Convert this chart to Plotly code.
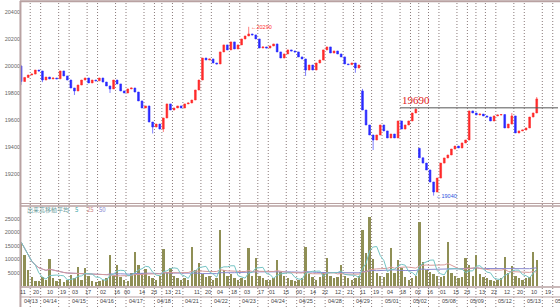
import plotly.graph_objects as go
import pandas as pd

# ---------------- data ----------------
DATES = ["04/13", "04/14", "04/15", "04/16", "04/17", "04/18", "04/21", "04/22",
         "04/23", "04/24", "04/25", "04/28", "04/29", "05/01", "05/02", "05/08",
         "05/09", "05/12", "05/13", "05/14"]

HOUR_POS = [0.362, 0.819, 1.329, 1.786, 2.207, 2.664, 3.192, 3.684, 4.035, 4.562,
            4.984, 5.476, 5.828, 6.496, 6.883, 7.304, 7.796, 8.253, 8.745, 9.132,
            9.624, 10.081, 10.573, 10.995, 11.452, 11.873, 12.330, 12.787, 13.279,
            13.736, 14.263, 14.685, 15.142, 15.599, 15.986, 16.513, 16.934, 17.391,
            17.848, 18.340, 18.833]
HOUR_TXT = ["11", "20", "10", "19", "03", "17", "02", "16", "00", "14",
            "23", "13", "21", "11", "20", "04", "18", "03", "17", "01",
            "15", "00", "14", "22", "12", "21", "11", "19", "04",
            "18", "02", "16", "01", "15", "23", "13", "22", "12",
            "20", "10", "19"]

SESSION_MARK = 0.633          # second dotted line inside each day (day units)
EXTRA_MARKS = [5.26, 10.26, 12.25, 14.29, 16.30]

SLOTS_PER_DAY = 8
FIRST_SLOT = 2
FIRST_OPEN = 20000

closes = [19885, 19915, 19933, 19940, 19970, 19963, 19896, 19918, 19904, 19911,
          19905, 19963, 19926, 19896, 19837, 19815, 19859, 19896, 19911, 19874,
          19896, 19890, 19911, 19881, 19852, 19830, 19896, 19867, 19815, 19800,
          19830, 19837, 19807, 19741, 19689, 19704, 19585, 19548, 19570, 19533,
          19615, 19719, 19674, 19689, 19704, 19689, 19719, 19726, 19748, 19822,
          19896, 20059, 20044, 20052, 20022, 20015, 20104, 20156, 20119, 20178,
          20126, 20156, 20200, 20222, 20237, 20230, 20200, 20133, 20141, 20133,
          20148, 20163, 20104, 20059, 20089, 20119, 20111, 20104, 20067, 20052,
          19970, 20007, 19970, 20022, 20044, 20119, 20141, 20096, 20111, 20089,
          20067, 20015, 20010, 20022, 19985, 20007, 19674, 19563, 19489, 19452,
          19489, 19563, 19519, 19467, 19496, 19467, 19593, 19533, 19563, 19593,
          19652, 19680, 19320, 19281, 19230, 19141, 19067, 19170, 19281, 19319,
          19341, 19385, 19407, 19393, 19430, 19452, 19667, 19652, 19637, 19644,
          19630, 19622, 19593, 19630, 19637, 19640, 19541, 19570, 19630, 19504,
          19519, 19526, 19541, 19622, 19652, 19756]

gap_opens = {98: 19815, 114: 19390}
wick_high = {2: 20005, 66: 20290, 98: 19830, 113: 19690, 140: 19652, 147: 19770}
wick_low = {2: 19860, 8: 19880, 17: 19785, 27: 19800, 39: 19500, 42: 19511,
            82: 19926, 96: 19950, 101: 19378, 118: 19040}

volume = [16500, 11500, 6000, 3500, 2200, 2000, 3500, 2500, 10000, 3000,
          2200, 2800, 1800, 2500, 4300, 3000, 7300, 2500, 7000, 4000,
          2200, 1800, 2000, 2500, 3000, 11600, 4000, 7900, 3500, 2500,
          2000, 5000, 12900, 8000, 5000, 6500, 4000, 3000, 2500, 4000,
          14000, 5500, 7000, 4000, 3000, 2500, 3000, 2500, 14700, 6000,
          8700, 4500, 3500, 4000, 2500, 3000, 20900, 6000, 4000, 4500,
          3000, 2500, 3000, 2500, 14100, 4000, 10400, 4000, 3000, 2500,
          2500, 3000, 9800, 5500, 4000, 3000, 2500, 2000, 2500, 3000,
          14700, 4500, 3500, 2500, 3500, 5000, 10400, 4000, 3000, 3500,
          8000, 4000, 3000, 2500, 3000, 4000, 20900, 12400, 25800, 10000,
          5000, 4000, 3500, 5000, 14200, 5000, 9800, 7000, 3500, 2500,
          3000, 4000, 24000, 9200, 6000, 5500, 4500, 4000, 3500, 4000,
          16600, 5000, 4000, 3000, 3500, 10400, 8000, 4000, 11700, 4500,
          3500, 3000, 2500, 2000, 2500, 3000, 10800, 5000, 7500, 4000,
          3000, 2500, 3000, 3500, 12900, 9800]

HIGH_LABEL = (66, 20290)
LOW_LABEL = (118, 19040)
RESIST_LEVEL = 19690
RESIST_START = 13.63

PRICE_TICKS = [19200, 19400, 19600, 19800, 20000, 20200, 20400]
VOL_TICKS = [5000, 10000, 15000, 20000, 25000]

# ---------------- build ----------------
slots = [FIRST_SLOT + i for i in range(len(closes))]
x = [(s + 0.5) / SLOTS_PER_DAY for s in slots]
opens, highs, lows = [], [], []
prev = FIRST_OPEN
for s, c in zip(slots, closes):
    o = gap_opens.get(s, prev)
    opens.append(o)
    highs.append(max(o, c, wick_high.get(s, -1)))
    lows.append(min(o, c, wick_low.get(s, 10 ** 9)))
    prev = c

vol = pd.Series(volume)
ma5 = vol.rolling(5, min_periods=1).mean()
ma25 = vol.rolling(25, min_periods=1).mean()
ma50 = vol.rolling(50, min_periods=1).mean()

XMIN, XMAX = 0.309, 19.185
FONT = "Liberation Sans, DejaVu Sans, sans-serif"
LINE_C = "#b9a2a2"
DOT_C = "#8a7a7a"

fig = go.Figure()
fig.add_trace(go.Bar(x=x, y=volume, width=0.085, xaxis="x", yaxis="y2",
                     marker=dict(color="#8f8f55", line_width=0), showlegend=False,
                     hoverinfo="skip"))
for ma, col in [(ma50, "#8a8ad0"), (ma25, "#d79a9a"), (ma5, "#74c4c4")]:
    fig.add_trace(go.Scatter(x=x, y=ma, mode="lines", xaxis="x", yaxis="y2",
                             line=dict(color=col, width=1), showlegend=False,
                             hoverinfo="skip"))
fig.add_trace(go.Candlestick(
    x=x, open=opens, high=highs, low=lows, close=closes, xaxis="x", yaxis="y",
    increasing=dict(line=dict(color="#ff2a2a", width=0.6), fillcolor="#ff2a2a"),
    decreasing=dict(line=dict(color="#2a2aff", width=0.6), fillcolor="#2a2aff"),
    whiskerwidth=0, showlegend=False, hoverinfo="skip"))

shapes = []
marks = []
for d in range(len(DATES)):
    marks += [d, d + SESSION_MARK]
marks += EXTRA_MARKS
for m in marks:
    shapes.append(dict(type="line", xref="x", yref="paper", x0=m, x1=m, y0=0, y1=1,
                       line=dict(color=DOT_C, width=1, dash="1px,2px"), layer="below"))
# frame lines
for yy, w in [(0.999, 2), (0.3382, 1), (0.3301, 1.5), (0.0654, 1.5), (0.0327, 1)]:
    shapes.append(dict(type="line", xref="paper", yref="paper", x0=-0.002, x1=1.01,
                       y0=yy, y1=yy, line=dict(color=LINE_C, width=w)))
shapes.append(dict(type="line", xref="paper", yref="paper", x0=-0.001, x1=-0.001,
                   y0=0, y1=1, line=dict(color=LINE_C, width=2)))
shapes.append(dict(type="line", xref="x", yref="y", x0=RESIST_START, x1=XMAX,
                   y0=RESIST_LEVEL, y1=RESIST_LEVEL, line=dict(color="#555555", width=1)))

ann = []
for pos, t in zip(HOUR_POS, HOUR_TXT):
    ann.append(dict(x=pos, y=0.049, xref="x", yref="paper", text=t, showarrow=False,
                    font=dict(family=FONT, size=5.5, color="#444444"),
                    xanchor="center", yanchor="middle"))
for d, t in enumerate(DATES):
    ann.append(dict(x=max(d, XMIN) + 0.02, y=0.0185, xref="x", yref="paper", text=t,
                    showarrow=False, font=dict(family=FONT, size=5.5, color="#444444"),
                    xanchor="left", yanchor="middle"))
ann.append(dict(x=(HIGH_LABEL[0] + 0.5) / SLOTS_PER_DAY, y=HIGH_LABEL[1], xref="x", yref="y",
                text="←" + str(HIGH_LABEL[1]), showarrow=False, xanchor="left",
                yanchor="middle", font=dict(family=FONT, size=5.5, color="#ff3030")))
ann.append(dict(x=(LOW_LABEL[0] + 0.5) / SLOTS_PER_DAY, y=LOW_LABEL[1], xref="x", yref="y",
                text="←" + str(LOW_LABEL[1]), showarrow=False, xanchor="left",
                yanchor="middle", font=dict(family=FONT, size=5.5, color="#3050e0")))
ann.append(dict(x=RESIST_START, y=RESIST_LEVEL, xref="x", yref="y", text=str(RESIST_LEVEL),
                showarrow=False, xanchor="left", yanchor="bottom",
                font=dict(family="Liberation Serif, DejaVu Serif, serif", size=11,
                          color="#e02020")))
legend_items = [("出来高移動平均", "#6a9c9c", 0.007), ("5", "#3aa8a8", 0.096),
                ("25", "#d08585", 0.119), ("50", "#8585d0", 0.142)]
for t, col, px in legend_items:
    ann.append(dict(x=px, y=0.317, xref="paper", yref="paper", text=t, showarrow=False,
                    xanchor="left", yanchor="middle",
                    font=dict(family="Noto Sans CJK JP, " + FONT, size=6, color=col)))

fig.update_layout(
    width=560, height=307, margin=dict(l=21, r=2, t=1, b=0),
    paper_bgcolor="white", plot_bgcolor="white",
    shapes=shapes, annotations=ann, bargap=0,
    xaxis=dict(range=[XMIN, XMAX], showgrid=False, zeroline=False, showticklabels=False,
               ticks="", showline=False, rangeslider=dict(visible=False), anchor="y2"),
    yaxis=dict(domain=[0.3366, 1.0], range=[18978, 20481], tickvals=PRICE_TICKS,
               ticktext=[str(v) for v in PRICE_TICKS], showgrid=False, zeroline=False,
               ticks="", showline=False, anchor="x",
               tickfont=dict(family=FONT, size=5.5, color="#666666")),
    yaxis2=dict(domain=[0.067, 0.330], range=[0, 29815], tickvals=VOL_TICKS,
                ticktext=[str(v) for v in VOL_TICKS], showgrid=False, zeroline=False,
                ticks="", showline=False, anchor="x",
                tickfont=dict(family=FONT, size=5.5, color="#666666")),
)

fig.write_html("out.html")
